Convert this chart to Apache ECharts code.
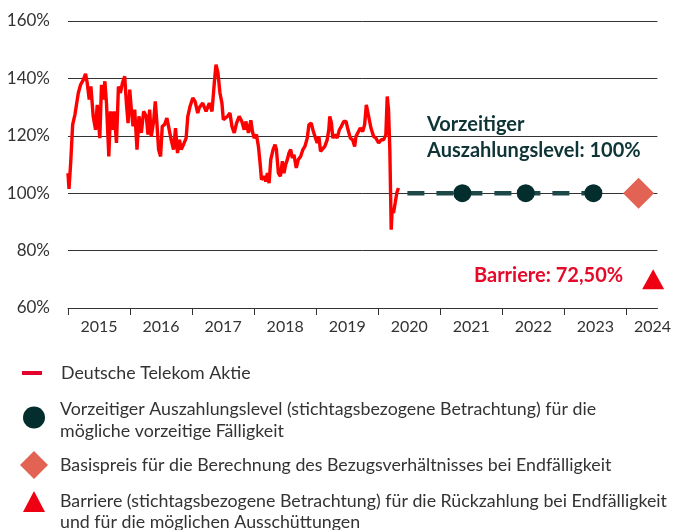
<!DOCTYPE html>
<html>
<head>
<meta charset="utf-8">
<script src="https://cdn.jsdelivr.net/npm/echarts@6/dist/echarts.min.js"></script>
<style>
html,body{margin:0;padding:0;background:#fff;}
#c{width:674px;height:530px;}
</style>
</head>
<body>
<div id="c"></div>
<script>
// ---- data ----
var stockDates = [2015.000,2015.016,2015.043,2015.075,2015.112,2015.139,2015.166,2015.203,2015.246,2015.283,2015.310,2015.342,2015.369,2015.406,2015.444,2015.471,2015.513,2015.540,2015.567,2015.594,2015.620,2015.658,2015.685,2015.717,2015.743,2015.781,2015.813,2015.845,2015.877,2015.914,2015.941,2015.968,2015.995,2016.021,2016.048,2016.075,2016.112,2016.144,2016.182,2016.219,2016.262,2016.289,2016.316,2016.342,2016.380,2016.407,2016.433,2016.460,2016.492,2016.519,2016.556,2016.594,2016.626,2016.663,2016.701,2016.733,2016.765,2016.797,2016.824,2016.861,2016.904,2016.931,2016.968,2017.011,2017.048,2017.091,2017.113,2017.171,2017.225,2017.278,2017.321,2017.358,2017.385,2017.417,2017.449,2017.481,2017.503,2017.535,2017.572,2017.610,2017.642,2017.679,2017.717,2017.759,2017.802,2017.840,2017.866,2017.909,2017.947,2017.973,2018.000,2018.037,2018.069,2018.096,2018.118,2018.161,2018.187,2018.214,2018.241,2018.268,2018.305,2018.337,2018.359,2018.391,2018.423,2018.455,2018.481,2018.508,2018.535,2018.562,2018.589,2018.615,2018.642,2018.679,2018.712,2018.749,2018.786,2018.818,2018.856,2018.883,2018.920,2018.947,2018.979,2019.016,2019.043,2019.070,2019.096,2019.139,2019.177,2019.203,2019.219,2019.246,2019.268,2019.300,2019.337,2019.374,2019.406,2019.444,2019.481,2019.513,2019.551,2019.588,2019.620,2019.642,2019.674,2019.711,2019.749,2019.781,2019.808,2019.845,2019.883,2019.925,2019.963,2020.006,2020.048,2020.086,2020.123,2020.145,2020.166,2020.187,2020.198,2020.209,2020.225,2020.246,2020.273,2020.299,2020.326];
var stockValues = [107.0,101.5,110.5,123.9,127.4,128.0,134.9,137.8,139.5,141.6,138.4,132.6,137.2,126.8,122.1,130.8,119.2,137.8,132.6,139.0,131.4,112.8,128.5,122.1,128.5,117.5,137.2,134.9,138.4,140.7,131.4,124.4,136.1,129.1,123.3,129.1,115.2,126.8,121.0,128.5,126.8,120.4,129.1,119.8,125.0,132.0,124.4,115.2,112.8,123.3,123.9,126.2,122.7,118.6,115.2,122.7,114.0,118.6,115.2,116.9,119.2,126.8,130.3,133.2,132.0,127.9,129.7,131.4,128.5,131.4,128.5,138.4,144.8,141.9,134.9,131.4,125.6,125.0,126.8,127.9,123.3,121.0,124.4,126.8,125.0,122.1,125.0,121.0,125.4,121.5,119.2,120.4,116.3,110.5,104.7,105.9,104.1,107.0,103.5,111.7,115.2,116.9,115.2,107.0,105.9,111.1,107.0,109.9,111.7,114.0,115.2,112.3,113.4,108.8,111.7,112.8,115.2,116.3,119.2,123.9,124.4,122.1,119.8,117.5,119.8,114.6,114.0,116.3,118.6,122.1,126.8,124.4,119.2,120.4,119.2,122.1,123.3,125.0,125.0,122.1,119.2,118.6,116.3,119.8,120.4,122.7,121.5,123.9,130.8,126.8,122.7,119.8,119.2,117.5,118.6,118.6,120.4,133.7,129.1,115.2,101.2,87.3,94.3,93.1,96.6,100.1,101.8];

var pathDates = [2020.47, 2023.468];          // dashed early-redemption path
var pathLevels = [100, 100];
var obsDates = [2021.356, 2022.377, 2023.468]; // early redemption observation dates
var obsLevels = [100, 100, 100];
var strikeDates = [2024.196];
var strikeLevels = [100];
var barrierDates = [2024.431];
var barrierLevels = [72.5];

var yTicks = [60, 80, 100, 120, 140, 160];
var yearTicks = [2015, 2016, 2017, 2018, 2019, 2020, 2021, 2022, 2023, 2024];
var yearLabels = ['2015','2016','2017','2018','2019','2020','2021','2022','2023','2024'];

var NAME_STOCK = 'Deutsche Telekom Aktie';
var NAME_AUTO = 'Vorzeitiger Auszahlungslevel (stichtagsbezogene Betrachtung) für die mögliche vorzeitige Fälligkeit';
var NAME_STRIKE = 'Basispreis für die Berechnung des Bezugsverhältnisses bei Endfälligkeit';
var NAME_BARRIER = 'Barriere (stichtagsbezogene Betrachtung) für die Rückzahlung bei Endfälligkeit und für die möglichen Ausschüttungen';
var legendText = {};
legendText[NAME_STOCK] = '{t|Deutsche Telekom Aktie}';
legendText[NAME_AUTO] = '{s| }\n{t|Vorzeitiger Auszahlungslevel (stichtagsbezogene Betrachtung) für die}\n{t|mögliche vorzeitige Fälligkeit}';
legendText[NAME_STRIKE] = '{t|Basispreis für die Berechnung des Bezugsverhältnisses bei Endfälligkeit}';
legendText[NAME_BARRIER] = '{b| }\n{u|Barriere (stichtagsbezogene Betrachtung) für die Rückzahlung bei Endfälligkeit}\n{u|und für die möglichen Ausschüttungen}';

function zip(a, b) { return a.map(function (d, i) { return [d, b[i]]; }); }
var labelPos = yearTicks.map(function (y) { return y + 0.5; });

var FONT = 'Lato';
var FS = 17.8;
var chart = echarts.init(document.getElementById('c'), null, {renderer: 'canvas'});
function leg(name, icon, left, top, w, h, padLeft) {
  return {
    orient: 'vertical', padding: 0, selectedMode: false,
    formatter: function (n) { return legendText[n]; },
    data: [{name: name, icon: icon}],
    left: left, top: top, itemWidth: w, itemHeight: h,
    textStyle: {
      fontFamily: FONT, fontSize: FS, color: '#333', lineHeight: 22, padding: [0, 0, 0, padLeft],
      rich: {
        t: {fontFamily: FONT, fontSize: FS, color: '#333', lineHeight: 22},
        u: {fontFamily: FONT, fontSize: FS, color: '#333', lineHeight: 21},
        s: {fontSize: 6, lineHeight: 6},
        b: {fontSize: 6, lineHeight: 21}
      }
    }
  };
}

chart.setOption({
  animation: false,
  backgroundColor: '#fff',
  grid: {left: 68, right: 14, top: 21, height: 287, containLabel: false},
  xAxis: {
    type: 'value', min: 2015, max: 2024.5,
    axisLine: {show: true, lineStyle: {color: '#333', width: 1}},
    axisTick: {show: true, length: 7, customValues: yearTicks, lineStyle: {color: '#333'}},
    axisLabel: {
      customValues: labelPos, margin: 11, color: '#333', fontFamily: FONT, fontSize: 16,
      formatter: function (v) {
        var t = yearLabels[Math.round(v - 0.5) - 2015];
        return v >= 2024.5 ? '{r|' + t + '}' : t;
      },
      rich: {r: {padding: [0, 10, 0, 0], color: '#333', fontFamily: FONT, fontSize: 16}}
    },
    splitLine: {show: false}
  },
  yAxis: {
    type: 'value', min: yTicks[0], max: yTicks[yTicks.length - 1], interval: 20,
    axisLine: {show: false}, axisTick: {show: false},
    axisLabel: {formatter: '{value}%', margin: 18, color: '#333', fontFamily: FONT, fontSize: 17},
    splitLine: {show: true, lineStyle: {color: '#333', width: 1}}
  },
  legend: [
    leg(NAME_STOCK, 'rect', 22, 362, 20, 4, 14),
    leg(NAME_AUTO, 'circle', 23, 392.5, 22, 22, 10),
    leg(NAME_STRIKE, 'diamond', 20, 451, 28, 28, 7),
    leg(NAME_BARRIER, 'triangle', 23, 470, 22, 21, 10)
  ],
  graphic: [{
    type: 'text', left: 427, top: 112, silent: true,
    style: {text: 'Vorzeitiger\nAuszahlungslevel: 100%', fontFamily: FONT, fontWeight: 'bold',
            fontSize: 20, lineHeight: 26, fill: '#0f3436'}
  }],
  series: [
    {name: NAME_STOCK, type: 'line', data: zip(stockDates, stockValues), showSymbol: false,
     lineStyle: {color: '#ff0000', width: 3.4}, itemStyle: {color: '#e4032e'}, z: 3},
    {name: 'Auszahlungspfad', type: 'line', data: zip(pathDates, pathLevels), showSymbol: false,
     lineStyle: {color: '#1d4848', width: 4.5, type: [17, 12]}, z: 4, silent: true},
    {name: NAME_AUTO, type: 'scatter', data: zip(obsDates, obsLevels), symbol: 'circle', symbolSize: 18,
     itemStyle: {color: '#042d2d', opacity: 1}, z: 5},
    {name: NAME_STRIKE, type: 'scatter', data: zip(strikeDates, strikeLevels), symbol: 'diamond', symbolSize: 31,
     itemStyle: {color: '#e26253', opacity: 1}, z: 5},
    {name: NAME_BARRIER, type: 'scatter', data: zip(barrierDates, barrierLevels), symbol: 'triangle',
     symbolSize: [22, 20], symbolOffset: [0, 7], itemStyle: {color: '#ee0012', opacity: 1}, z: 5,
     label: {show: true, position: 'left', distance: 19, offset: [0, -4],
             formatter: function (p) { return 'Barriere: ' + p.value[1].toFixed(2).replace('.', ',') + '%'; },
             fontFamily: FONT, fontWeight: 'bold', fontSize: 20, color: '#e30a2a'}}
  ]
});
</script>
</body>
</html>
